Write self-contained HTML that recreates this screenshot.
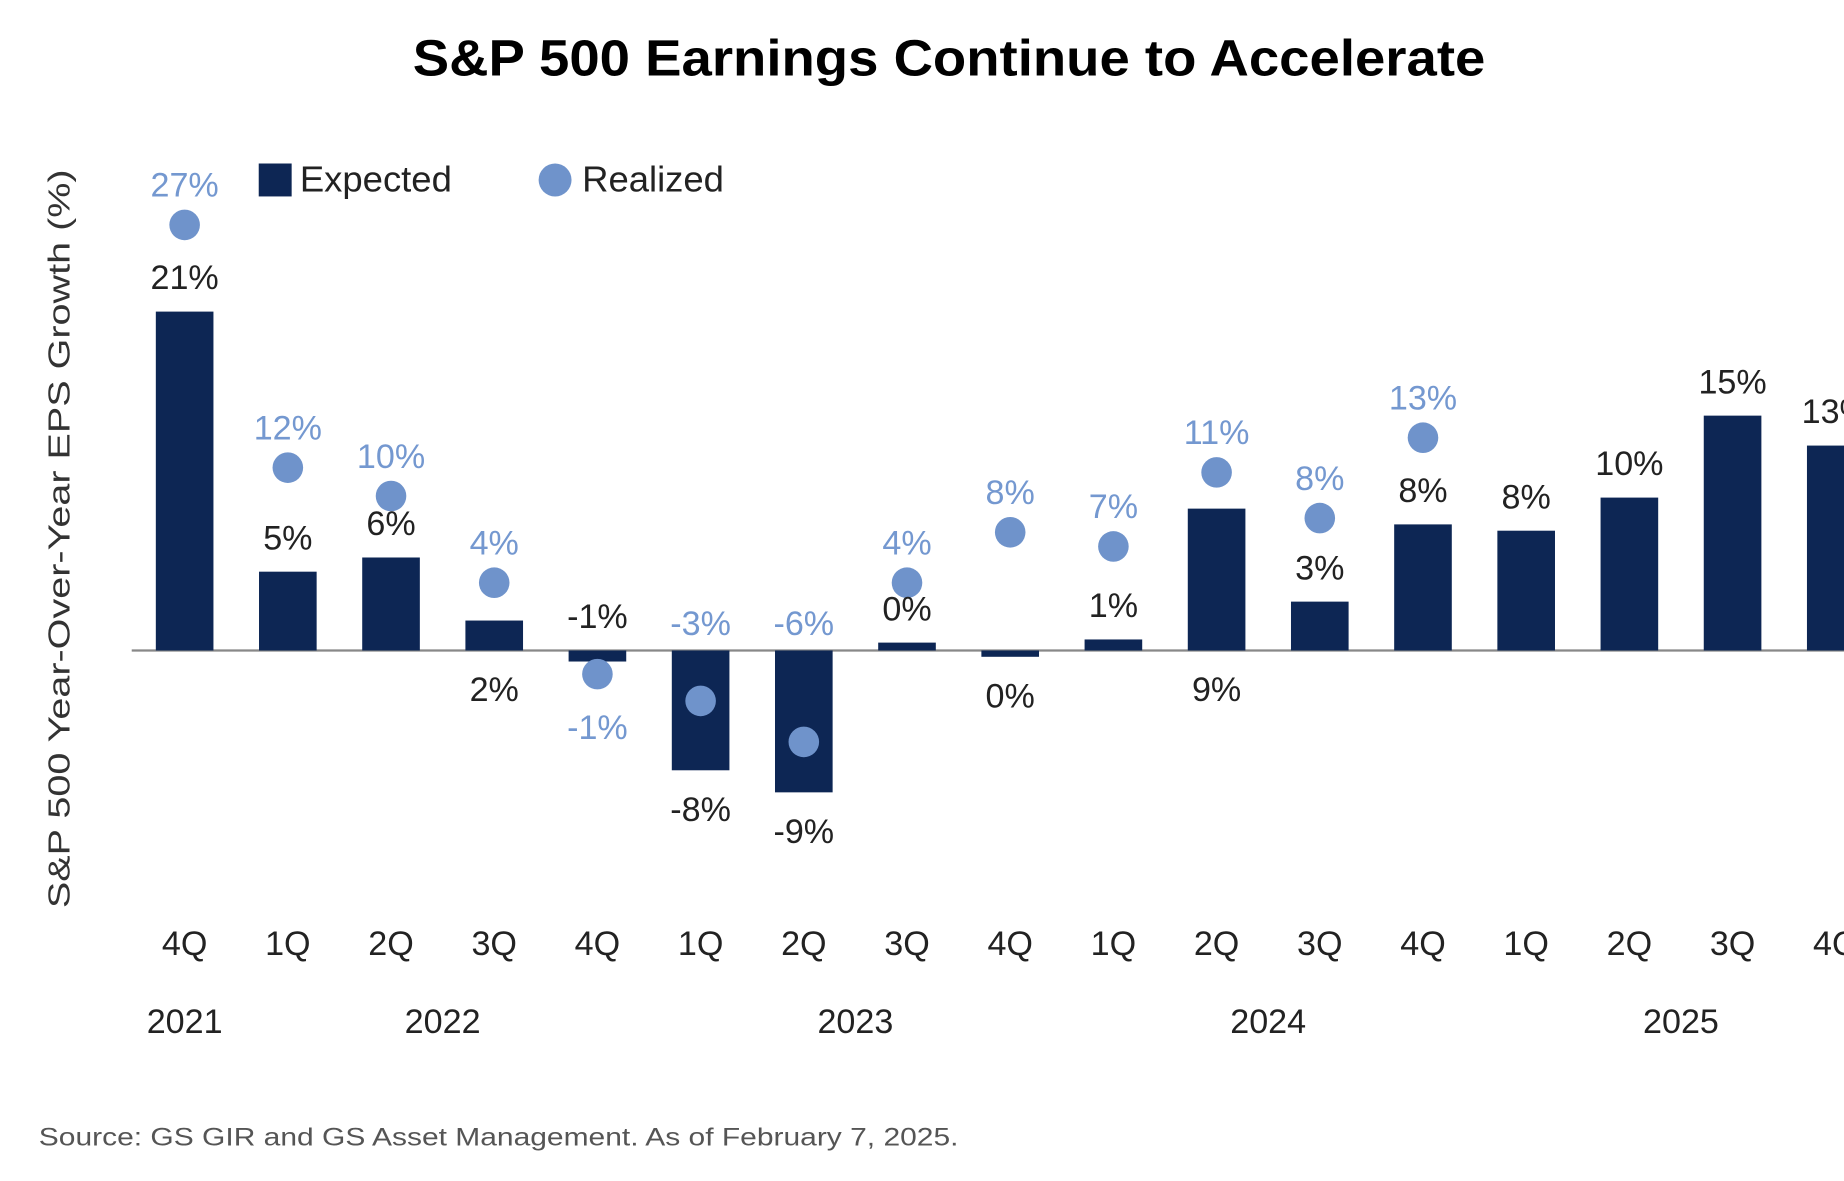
<!DOCTYPE html>
<html><head><meta charset="utf-8"><style>
html,body{margin:0;padding:0;background:#fff;width:1844px;height:1181px;overflow:hidden}
svg{display:block}
text{font-family:"Liberation Sans",sans-serif}
</style></head><body>
<svg id="chart" width="1844" height="1181" viewBox="0 0 1568 1004" preserveAspectRatio="none" xmlns="http://www.w3.org/2000/svg">
<text x="807" y="64" text-anchor="middle" font-size="43" font-weight="bold" fill="#000" textLength="912" lengthAdjust="spacingAndGlyphs">S&amp;P 500 Earnings Continue to Accelerate</text>
<text transform="translate(59,458) rotate(-90)" text-anchor="middle" font-size="26" fill="#333" textLength="628" lengthAdjust="spacingAndGlyphs">S&amp;P 500 Year-Over-Year EPS Growth (%)</text>
<g>
<rect x="220" y="139" width="28" height="28" fill="#0d2654"/>
<text x="255" y="163" font-size="31" fill="#222">Expected</text>
<circle cx="472" cy="153" r="14" fill="#6f93cb"/>
<text x="495" y="163" font-size="31" fill="#222">Realized</text>
</g>
<line x1="112" y1="553" x2="1568" y2="553" stroke="#888" stroke-width="2"/>
<g id="bars"></g><g id="dots"></g><g id="labels"></g><g id="xaxis"></g>
<text x="33" y="974" font-size="21" fill="#555" textLength="782" lengthAdjust="spacingAndGlyphs">Source: GS GIR and GS Asset Management. As of February 7, 2025.</text>
</svg>
<script>
const quarters = ["4Q","1Q","2Q","3Q","4Q","1Q","2Q","3Q","4Q","1Q","2Q","3Q","4Q","1Q","2Q","3Q","4Q"];
const years = ["2021","2022","2023","2024","2025"];
const yearSpans = [[0,0],[1,4],[5,8],[9,12],[13,16]];
const expected = [21.5,5,5.9,1.9,-0.7,-7.6,-9,0.5,-0.4,0.7,9,3.1,8,7.6,9.7,14.9,13];
const expectedLabels = ["21%","5%","6%","2%","-1%","-8%","-9%","0%","0%","1%","9%","3%","8%","8%","10%","15%","13%"];
const expectedPlace = ["above","above","above","below","above","below","below","above","below","above","below","above","above","above","above","above","above"];
const realized = [27,11.6,9.8,4.3,-1.5,-3.2,-5.8,4.3,7.5,6.6,11.3,8.4,13.5,null,null,null,null];
const realizedLabels = ["27%","12%","10%","4%","-1%","-3%","-6%","4%","8%","7%","11%","8%","13%","","","",""];
const realizedPlace = ["above","above","above","above","below","base","base","above","above","above","above","above","above","","","",""];
const NS="http://www.w3.org/2000/svg";
const x0=157, step=87.75, bw=49, base=553, ppu=13.4;
const xs=i=>x0+i*step;
const ys=v=>base-v*ppu;
function mk(tag,attrs,parent){const e=document.createElementNS(NS,tag);for(const k in attrs)e.setAttribute(k,attrs[k]);document.getElementById(parent).appendChild(e);return e;}
expected.forEach((v,i)=>{
  const r=mk('rect',{x:xs(i)-bw/2,y:Math.min(ys(v),base),width:bw,height:Math.max(Math.abs(ys(v)-base),1),fill:'#0d2654'},'bars');
  
  
  let ly;
  if(expectedPlace[i]==='above') ly=Math.min(ys(v),base)-19; else ly=Math.max(ys(v),base)+43;
  const t=mk('text',{x:xs(i),y:ly,'text-anchor':'middle','font-size':29,fill:'#222'},'labels');
  t.textContent=expectedLabels[i];
  
  
});
realized.forEach((v,i)=>{
  if(v===null) return;
  const c=mk('circle',{cx:xs(i),cy:ys(v),r:13,fill:'#6f93cb'},'dots');
  
  
  let ly;
  if(realizedPlace[i]==='above') ly=ys(v)-24; else if(realizedPlace[i]==='below') ly=ys(v)+55; else ly=base-13;
  const t=mk('text',{x:xs(i),y:ly,'text-anchor':'middle','font-size':29,fill:'#7498d0'},'labels');
  t.textContent=realizedLabels[i];
  
  
});
quarters.forEach((q,i)=>{
  const t=mk('text',{x:xs(i),y:812,'text-anchor':'middle','font-size':29,fill:'#222'},'xaxis');
  t.textContent=q;
  
  
});
years.forEach((y,j)=>{
  const [a,b]=yearSpans[j];
  const t=mk('text',{x:(xs(a)+xs(b))/2,y:878,'text-anchor':'middle','font-size':29,fill:'#222'},'xaxis');
  t.textContent=y;
  
  
});
</script>
</body></html>
